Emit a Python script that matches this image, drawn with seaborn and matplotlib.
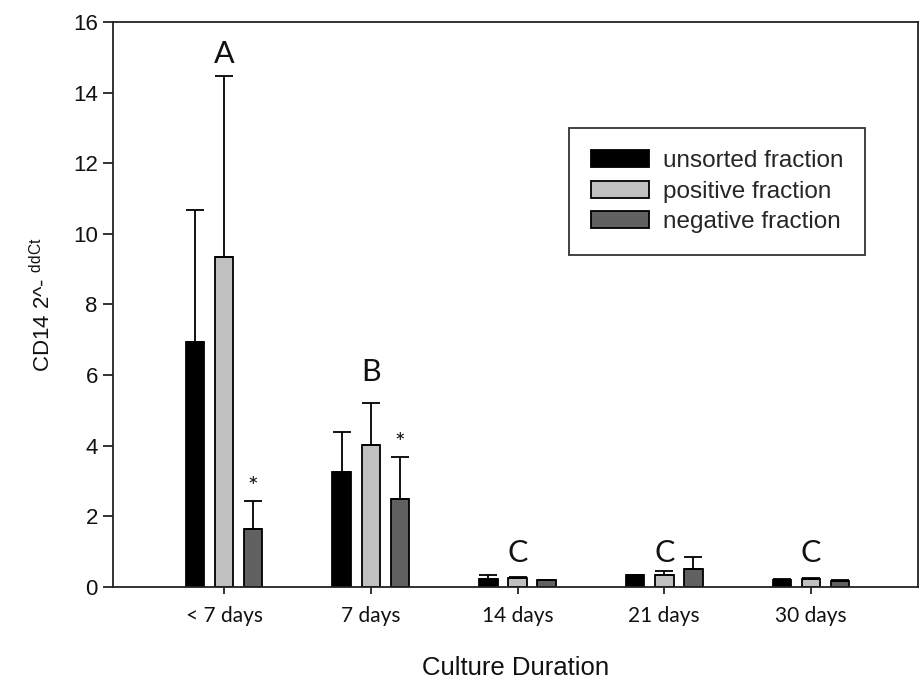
import numpy as np
import pandas as pd
import matplotlib
matplotlib.use('Agg')
import matplotlib.pyplot as plt
import seaborn as sns

# values
durations = ['< 7 days', '7 days', '14 days', '21 days', '30 days']
fractions = ['unsorted fraction', 'positive fraction', 'negative fraction']
unsorted_mean = [6.95, 3.25, 0.22, 0.33, 0.21]
unsorted_err = [3.73, 1.15, 0.11, 0.02, 0.02]
positive_mean = [9.35, 4.01, 0.26, 0.34, 0.23]
positive_err = [5.11, 1.19, 0.02, 0.10, 0.02]
negative_mean = [1.64, 2.48, 0.20, 0.52, 0.18]
negative_err = [0.80, 1.21, 0.01, 0.32, 0.03]
group_letters = ['A', 'B', 'C', 'C', 'C']
letter_heights = [15.1, 6.1, 0.96, 0.96, 0.96]
star_groups = [0, 1]
colors = ['#000000', '#c0c0c0', '#616161']

means = [unsorted_mean, positive_mean, negative_mean]
errs = [unsorted_err, positive_err, negative_err]

df = pd.DataFrame({
    'Culture Duration': durations * 3,
    'value': unsorted_mean + positive_mean + negative_mean,
    'fraction': np.repeat(fractions, len(durations)),
})

sns.set_style('ticks')
plt.rcParams['font.family'] = ['Liberation Sans', 'DejaVu Sans']
plt.rcParams['mathtext.fontset'] = 'custom'
plt.rcParams['mathtext.rm'] = 'Liberation Sans'

fig = plt.figure(figsize=(9.22, 6.83), dpi=100)
ax = fig.add_axes([0.1226, 0.1406, 0.8731, 0.8272])

sns.barplot(data=df, x='Culture Duration', y='value', hue='fraction',
            order=durations, hue_order=fractions, palette=colors,
            width=0.594, gap=0.36, errorbar=None,
            edgecolor='black', linewidth=1.3, ax=ax)

# upward-only error bars on each bar
for cont, m, e in zip(ax.containers, means, errs):
    xs = [b.get_x() + b.get_width() / 2 for b in cont]
    ax.errorbar(xs, m, yerr=[np.zeros(len(e)), e], fmt='none',
                ecolor='black', elinewidth=1.3, capsize=6.5, capthick=1.3)

# letters over groups, asterisks over negative fraction
pos_bars = ax.containers[1]
for b, letter, h in zip(pos_bars, group_letters, letter_heights):
    ax.text(b.get_x() + b.get_width() / 2, h, letter, ha='center', va='center',
            fontsize=22, family='Lato', color='#111111')
neg_bars = ax.containers[2]
for i in star_groups:
    b = neg_bars[i]
    top = negative_mean[i] + negative_err[i]
    ax.text(b.get_x() + b.get_width() / 2, top + 0.05, '*', ha='center',
            va='bottom', fontsize=18, family='Lato', color='#111111')

ax.set_xlim(-0.757, 4.73)
ax.set_ylim(0, 16)
ax.set_yticks(np.arange(0, 17, 2))
ax.tick_params(axis='y', direction='out', length=7, width=1.2, pad=4,
               labelsize=16, colors='#111111')
ax.tick_params(axis='x', direction='out', length=5, width=1.2, pad=9,
               colors='#111111')
for lab in ax.get_xticklabels():
    lab.set_family('Lato')
    lab.set_fontsize(15)

for s in ax.spines.values():
    s.set_linewidth(1.3)
    s.set_color('#222222')

ax.set_xlabel('Culture Duration', fontsize=18.5, labelpad=21, color='#111111')
ax.set_ylabel(r'CD14 2^- $^{\mathregular{ddCt}}$', fontsize=16,
              labelpad=13, color='#111111')

handles, labels = ax.get_legend_handles_labels()
leg = ax.legend(handles, labels, loc='upper right', bbox_to_anchor=(0.934, 0.812),
                fontsize=17.5, frameon=True, fancybox=False, edgecolor='black',
                handlelength=2.4, handleheight=0.7, handletextpad=0.55,
                labelspacing=0.35, borderpad=0.9, borderaxespad=0)
leg.get_frame().set_linewidth(1.3)

fig.savefig('out.png', dpi=100)
